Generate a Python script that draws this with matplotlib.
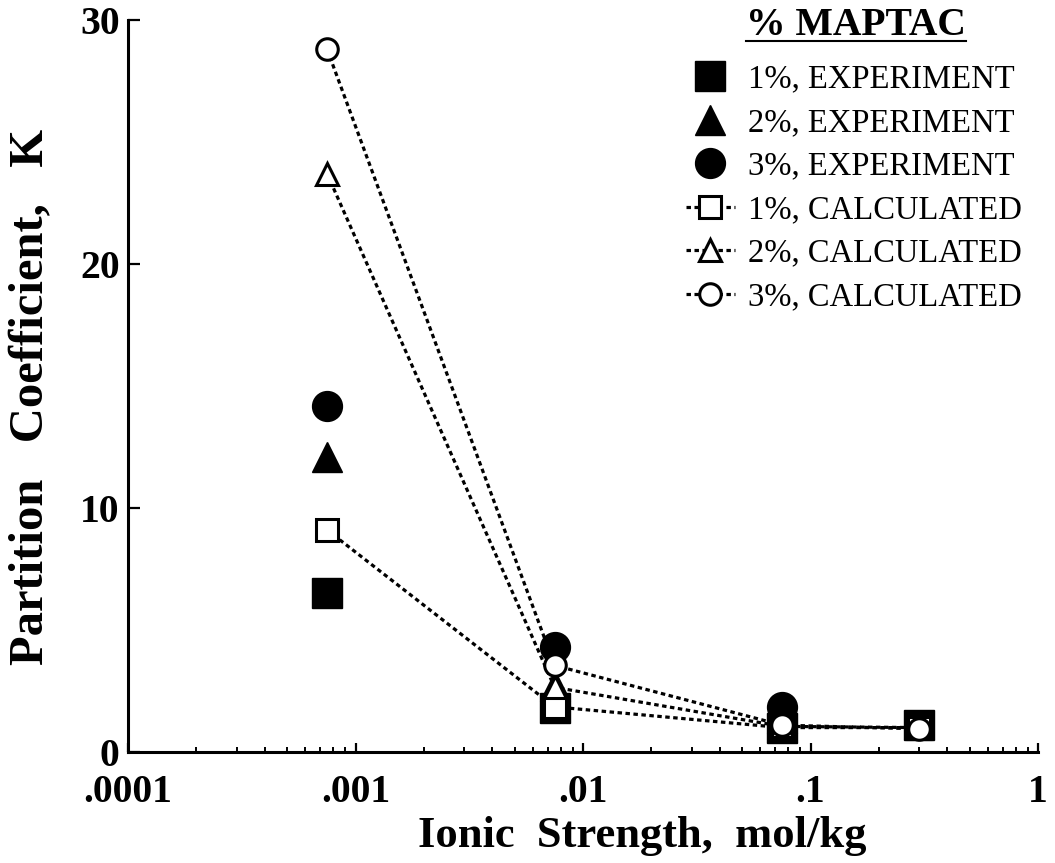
import matplotlib
matplotlib.use("Agg")
import matplotlib.pyplot as plt
from matplotlib.lines import Line2D
from matplotlib.ticker import FixedLocator, LogLocator, NullFormatter

# ---- data ----
ionic_strength = [0.00075, 0.0075, 0.075, 0.3]
exp_1pct = [6.5, 1.8, 1.0, 1.1]
exp_2pct = [12.1, 2.7, 1.4]
exp_3pct = [14.2, 4.3, 1.85]
calc_1pct = [9.1, 1.85, 1.0, 1.0]
calc_2pct = [23.7, 2.65, 1.05, 1.0]
calc_3pct = [28.8, 3.55, 1.1, 0.95]

x_ticks = [0.0001, 0.001, 0.01, 0.1, 1]
x_ticklabels = [".0001", ".001", ".01", ".1", "1"]
y_ticks = [0, 10, 20, 30]
legend_labels = ["1%, EXPERIMENT", "2%, EXPERIMENT", "3%, EXPERIMENT",
                 "1%, CALCULATED", "2%, CALCULATED", "3%, CALCULATED"]

plt.rcParams['font.family'] = ['Liberation Serif', 'DejaVu Serif']

W, H = 1055, 863
fig = plt.figure(figsize=(W / 100, H / 100), dpi=100)
ax = fig.add_axes([128 / W, 1 - 752 / H, (1038 - 128) / W, (752 - 20) / H])

ax.set_xscale('log')
ax.set_xlim(0.0001, 1)
ax.set_ylim(0, 30)

# experiment (filled)
ms_f = 21.5
ax.plot(ionic_strength[:len(exp_1pct)], exp_1pct, ls='none', marker='s', ms=ms_f,
        color='black', zorder=2, clip_on=False)
ax.plot(ionic_strength[:len(exp_2pct)], exp_2pct, ls='none', marker='^', ms=ms_f,
        color='black', zorder=2, clip_on=False)
ax.plot(ionic_strength[:len(exp_3pct)], exp_3pct, ls='none', marker='o', ms=ms_f,
        color='black', zorder=2, clip_on=False)

# calculated (open, dotted)
dots = (0, (1.4, 1.1))
ms_o = 15.5
kw = dict(color='black', ls=dots, lw=2.3, mfc='white', mec='black', mew=2.2,
          ms=ms_o, zorder=3, clip_on=False)
ax.plot(ionic_strength[:len(calc_1pct)], calc_1pct, marker='s', **kw)
ax.plot(ionic_strength[:len(calc_2pct)], calc_2pct, marker='^', **kw)
ax.plot(ionic_strength[:len(calc_3pct)], calc_3pct, marker='o', **kw)

# spines
for s in ['top', 'right']:
    ax.spines[s].set_visible(False)
for s in ['left', 'bottom']:
    ax.spines[s].set_linewidth(2.2)

ax.xaxis.set_major_locator(FixedLocator(x_ticks))
ax.set_xticklabels(x_ticklabels)
ax.xaxis.set_minor_locator(LogLocator(base=10, subs=range(2, 10), numticks=20))
ax.xaxis.set_minor_formatter(NullFormatter())
ax.set_yticks(y_ticks)

ax.tick_params(axis='x', which='major', direction='in', length=6.5, width=1.6,
               pad=15.5, labelsize=28.5)
ax.tick_params(axis='x', which='minor', direction='in', length=3.5, width=1.4)
ax.tick_params(axis='y', which='major', direction='in', length=8.5, width=1.6,
               pad=6, labelsize=28.5)
for lab in ax.get_xticklabels() + ax.get_yticklabels():
    lab.set_fontweight('bold')

ax.set_xlabel("Ionic  Strength,  mol/kg", fontsize=32, fontweight='bold')
ax.xaxis.set_label_coords(0.565, -0.088)
ax.xaxis.label.set_va('top')
ax.set_ylabel("Partition   Coefficient,   K", fontsize=35, fontweight='bold')
ax.yaxis.set_label_coords(-0.082, 0.485)

# legend
handles = [
    Line2D([], [], ls='none', marker='s', ms=ms_f, color='black'),
    Line2D([], [], ls='none', marker='^', ms=ms_f, color='black'),
    Line2D([], [], ls='none', marker='o', ms=ms_f, color='black'),
    Line2D([], [], ls=dots, lw=2.3, color='black', marker='s', ms=ms_o,
           mfc='white', mec='black', mew=2.2),
    Line2D([], [], ls=dots, lw=2.3, color='black', marker='^', ms=ms_o,
           mfc='white', mec='black', mew=2.2),
    Line2D([], [], ls=dots, lw=2.3, color='black', marker='o', ms=ms_o,
           mfc='white', mec='black', mew=2.2),
]
leg = ax.legend(handles, legend_labels, loc='upper left',
                bbox_to_anchor=(686 / W, 1 - 64 / H), bbox_transform=fig.transFigure,
                frameon=False, fontsize=23.5, handlelength=1.5, handletextpad=0.4,
                labelspacing=0.4, borderpad=0, borderaxespad=0, markerscale=1.0)

title = fig.text(856 / W, 1 - 7 / H, "% MAPTAC", fontsize=28.5, fontweight='bold',
                 ha='center', va='top')
fig.canvas.draw()
bb = title.get_window_extent()
fig.add_artist(Line2D([bb.x0 / W, bb.x1 / W], [(bb.y0 + 3) / H, (bb.y0 + 3) / H],
                      transform=fig.transFigure, color='black', lw=1.5))

fig.savefig("out.png", dpi=100)
